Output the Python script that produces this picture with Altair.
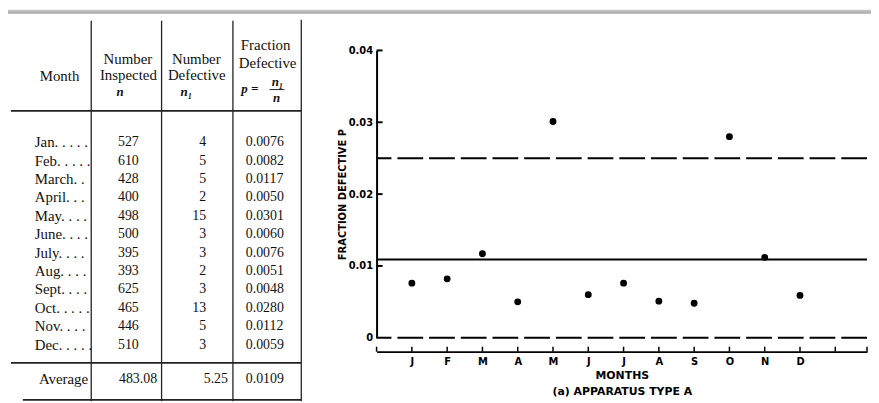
import altair as alt
import pandas as pd

# ---------------- data ----------------
month_labels = ["Jan. . . . .", "Feb. . . . .", "March. .", "April. . .", "May. . . .",
                "June. . . .", "July. . . .", "Aug. . . .", "Sept. . . .", "Oct. . . . .",
                "Nov. . . .", "Dec. . . . ."]
inspected = ["527", "610", "428", "400", "498", "500", "395", "393", "625", "465", "446", "510"]
defective = ["4", "5", "5", "2", "15", "3", "3", "2", "3", "13", "5", "3"]
fraction_txt = ["0.0076", "0.0082", "0.0117", "0.0050", "0.0301", "0.0060",
                "0.0076", "0.0051", "0.0048", "0.0280", "0.0112", "0.0059"]
fraction = [0.0076, 0.0082, 0.0117, 0.0050, 0.0301, 0.0060,
            0.0076, 0.0051, 0.0048, 0.0280, 0.0112, 0.0059]
average_row = ["Average", "483.08", "5.25", "0.0109"]
month_letters = ["J", "F", "M", "A", "M", "J", "J", "A", "S", "O", "N", "D"]
ucl = 0.025
center_line = 0.0109
lcl = 0.0
y_tick_values = [0.01, 0.02, 0.03, 0.04]
x_tick_positions = [0, 1, 2, 3, 4, 5, 6, 7, 8, 9, 10, 11, 12, 13, 13.9]

# ---------------- layout (page pixels) ----------------
PX0, PY0, PW, PH = 380, 49, 495, 290
ROW0, ROWSTEP = 141.7, 18.57
SERIF = "Liberation Serif"
SANS = "DejaVu Sans"

tx_scale = alt.Scale(domain=[PX0, PX0 + PW], range=[0, PW], nice=False, zero=False)
ty_scale = alt.Scale(domain=[PY0, PY0 + PH], range=[0, PH], nice=False, zero=False)

rows_y = [ROW0 + ROWSTEP * i for i in range(12)]
avg_y = 381

def tlayer(df, align, size=15, style="normal", weight="normal", baseline="middle"):
    return alt.Chart(df).mark_text(
        align=align, baseline=baseline, font=SERIF, fontSize=size,
        fontStyle=style, fontWeight=weight, color="#111"
    ).encode(
        x=alt.X("x:Q", scale=tx_scale, axis=None),
        y=alt.Y("y:Q", scale=ty_scale, axis=None),
        text="t:N",
    )

col_month = pd.DataFrame({"t": month_labels, "x": 35, "y": rows_y})
col_n = pd.DataFrame({"t": inspected, "x": 119, "y": rows_y})
col_n1 = pd.DataFrame({"t": defective, "x": 208, "y": rows_y})
col_p = pd.DataFrame({"t": fraction_txt, "x": 248, "y": rows_y})
avg_c = pd.DataFrame({"t": [average_row[0]], "x": [64], "y": [avg_y]})
avg_l = pd.DataFrame({"t": [average_row[1], average_row[3]], "x": [120, 248], "y": [avg_y, avg_y]})
avg_r = pd.DataFrame({"t": [average_row[2]], "x": [230], "y": [avg_y]})

head = pd.DataFrame({
    "t": ["Month", "Number", "Inspected", "Number", "Defective", "Fraction", "Defective"],
    "x": [60, 129, 129.5, 198, 198.5, 268, 270],
    "y": [75, 58, 74, 58, 74, 44, 62],
})
head_math = pd.DataFrame({
    "t": ["n", "n\u2081", "p =", "n\u2081", "n"],
    "x": [121, 188, 252, 280, 279],
    "y": [91, 91, 88, 80.5, 97],
})

hrules = pd.DataFrame({"x": [11, 11, 23], "x2": [304, 304, 304], "y": [110, 364.3, 401.7]})
vrules = pd.DataFrame({"x": [92, 163, 235, 304], "y": [19, 19, 19, 18], "y2": [403, 403, 403, 403]})
frac_bar = pd.DataFrame({"x": [272], "x2": [287], "y": [88.5]})

hr = alt.Chart(hrules).mark_rule(color="#222", strokeWidth=1.6).encode(
    x=alt.X("x:Q", scale=tx_scale, axis=None), x2="x2:Q",
    y=alt.Y("y:Q", scale=ty_scale, axis=None))
vr = alt.Chart(vrules).mark_rule(color="#222", strokeWidth=1.3).encode(
    x=alt.X("x:Q", scale=tx_scale, axis=None),
    y=alt.Y("y:Q", scale=ty_scale, axis=None), y2="y2:Q")
fb = alt.Chart(frac_bar).mark_rule(color="#222", strokeWidth=1).encode(
    x=alt.X("x:Q", scale=tx_scale, axis=None), x2="x2:Q",
    y=alt.Y("y:Q", scale=ty_scale, axis=None))

band = alt.Chart(alt.Data(values=[{}])).mark_rect(
    fill=alt.LinearGradient(gradient="linear", x1=0, y1=0, x2=0, y2=1,
                            stops=[alt.GradientStop(color="#c8c8c8", offset=0),
                                   alt.GradientStop(color="#a8a8a8", offset=1)])
).encode(x=alt.value(-PX0 + 8), x2=alt.value(PW + 10), y=alt.value(-PY0 + 8), y2=alt.value(-PY0 + 12))

table = alt.layer(
    band, hr, vr, fb,
    tlayer(col_month, "left"),
    tlayer(col_n, "left", size=14),
    tlayer(col_n1, "right", size=14),
    tlayer(col_p, "left", size=14),
    tlayer(avg_c, "center"),
    tlayer(avg_l, "left", size=14),
    tlayer(avg_r, "right", size=14),
    tlayer(head, "center"),
    tlayer(head_math, "center", size=13, style="italic", weight="bold"),
)

# ---------------- control chart ----------------
xs = alt.Scale(domain=[0, 13.9], nice=False, zero=False)
ys = alt.Scale(domain=[0, 0.04], nice=False, zero=True)

pts_df = pd.DataFrame({"m": list(range(1, 13)), "p": fraction})

letters_js = "[" + ",".join("'" + s + "'" for s in month_letters) + "]"

points = alt.Chart(pts_df).mark_circle(size=48, color="black", opacity=1).encode(
    x=alt.X("m:Q", scale=xs, axis=alt.Axis(
        values=list(range(1, 13)), labelExpr=letters_js + "[datum.value - 1]",
        offset=14, ticks=False, tickSize=0, grid=False, domainWidth=1.8, domainColor="black",
        labelFont=SANS, labelFontWeight="bold", labelFontSize=10, labelColor="black",
        labelPadding=5, labelAngle=0,
        title=["MONTHS", "(a) APPARATUS TYPE A"], titleFont=SANS, titleFontWeight="bold",
        titleFontSize=11, titleColor="black", titlePadding=3, titleLineHeight=16)),
    y=alt.Y("p:Q", scale=ys, axis=alt.Axis(
        values=[0, 0.01, 0.02, 0.03, 0.04],
        labelExpr="datum.value == 0 ? '0' : format(datum.value, '.2f')",
        ticks=False, tickSize=0, grid=False, domainWidth=2, domainColor="black",
        labelFont=SANS, labelFontWeight="bold", labelFontSize=10, labelColor="black",
        labelPadding=4,
        title="FRACTION DEFECTIVE P", titleFont=SANS, titleFontWeight="bold",
        titleFontSize=10, titleColor="black", titlePadding=1)),
)

limits_dashed = alt.Chart(pd.DataFrame({"v": [ucl, lcl]})).mark_rule(
    color="black", strokeWidth=2, strokeDash=[26, 6]).encode(y=alt.Y("v:Q", scale=ys))
limit_center = alt.Chart(pd.DataFrame({"v": [center_line]})).mark_rule(
    color="black", strokeWidth=2).encode(y=alt.Y("v:Q", scale=ys))
ytk = alt.Chart(pd.DataFrame({"v": y_tick_values})).mark_rule(
    color="black", strokeWidth=2).encode(
    y=alt.Y("v:Q", scale=ys), x=alt.value(0), x2=alt.value(6))
xtk = alt.Chart(pd.DataFrame({"m": x_tick_positions})).mark_rule(
    color="black", strokeWidth=1.5).encode(
    x=alt.X("m:Q", scale=xs), y=alt.value(PH + 9), y2=alt.value(PH + 14))

control = alt.layer(limits_dashed, limit_center, ytk, xtk, points)

chart = alt.layer(table, control).resolve_scale(x="independent", y="independent").properties(
    width=PW, height=PH,
    autosize=alt.AutoSizeParams(type="none"),
    padding={"left": PX0 - 8, "top": PY0 - 8, "right": 4, "bottom": 64},
    background="white",
).configure_view(stroke=None)

chart.save("out.html", embed_options={"renderer": "svg", "actions": False})
